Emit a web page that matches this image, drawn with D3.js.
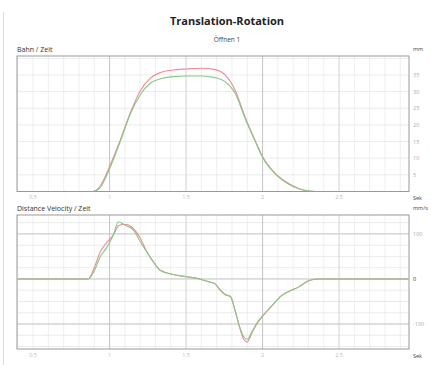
<!DOCTYPE html>
<html><head><meta charset="utf-8">
<script src="https://cdn.jsdelivr.net/npm/d3@7"></script>
<style>body{margin:0;background:#fff}svg{display:block;font-family:"Open Sans",sans-serif}</style>
</head><body><svg id="c" width="431" height="365"></svg>
<script>
// ---- data ----
const xTicks = [0.5, 1, 1.5, 2, 2.5];
const posTicks = [5, 10, 15, 20, 25, 30, 35];
const velTicks = [100, 0, -100];
const posTime = [0.4,0.85,0.89,0.937,1,1.07,1.135,1.2,1.265,1.33,1.415,1.5,1.6,1.69,1.755,1.82,1.885,1.95,2,2.08,2.15,2.21,2.28,2.35,2.5,2.95];
const posRed  = [0,0,0,1.5,7.5,15.5,23.6,30.2,34,35.7,36.5,36.8,37,36.6,35,30.5,22.5,15.5,10.5,5.6,3,1.4,0.3,0,0,0];
const posGreen= [0,0,0,1.1,6.8,15,23.2,29,32.5,33.8,34.5,34.7,34.7,34.2,33,29.6,22,15.2,10.2,5.4,2.8,1.3,0.3,0,0,0];
const velTime = [0.4,0.86,0.9,0.94,0.98,1.025,1.058,1.09,1.11,1.155,1.2,1.243,1.287,1.33,1.416,1.5,1.59,1.655,1.687,1.72,1.755,1.79,1.82,1.85,1.88,1.9,1.93,1.97,2,2.06,2.12,2.19,2.24,2.3,2.36,2.95];
const velRed  = [0,0,25,61,80,98,118,121,121,112,91,61,38,20,10,5,0,-7,-10,-24,-35,-39,-70,-108,-136,-140,-120,-96,-83,-60,-38,-25,-17,-4,0,0];
const velGreen= [0,0,18,50,69,98,127,122,118,109,83,60,37,19,10,5,0,-7,-10,-23,-34,-39,-69,-106,-130,-134,-117,-94,-82,-60,-38,-25,-17,-4,0,0];

const svg = d3.select("#c");
const L = 17, R = 409;
const x = d3.scaleLinear().domain([0.395, 2.957]).range([L, R]);
const red = "#ec8a98", green = "#86c886";

svg.append("line").attr("x1",3.5).attr("x2",3.5).attr("y1",12).attr("y2",365).attr("stroke","#ddd");
svg.append("text").attr("x",227).attr("y",25).attr("text-anchor","middle").attr("font-weight","bold").attr("font-size",11).attr("fill","#222").text("Translation-Rotation");
svg.append("text").attr("x",227).attr("y",42).attr("text-anchor","middle").attr("font-size",6.5).attr("fill","#444").text("Öffnen 1");

function panel(top, bottom, y, yTicks, minorStep, majorVals, title, unit, tXs, tY, ysA, ysB){
  const g = svg.append("g");
  const [d0,d1] = y.domain();
  d3.range(0.4, 2.96, 0.1).forEach(t=>{
    g.append("line").attr("x1",x(t)).attr("x2",x(t)).attr("y1",top).attr("y2",bottom).attr("stroke","#ebebeb").attr("stroke-width",0.8);
  });
  d3.range(Math.ceil(d0/minorStep)*minorStep, d1, minorStep).forEach(v=>{
    g.append("line").attr("x1",L).attr("x2",R).attr("y1",y(v)).attr("y2",y(v)).attr("stroke","#e6e6e6").attr("stroke-width",0.8);
  });
  majorVals.forEach(v=>{
    g.append("line").attr("x1",L).attr("x2",R).attr("y1",y(v)).attr("y2",y(v)).attr("stroke","#c4c4c4").attr("stroke-width",0.9);
  });
  [1,1.5,2,2.5].forEach(t=>{
    g.append("line").attr("x1",x(t)).attr("x2",x(t)).attr("y1",top).attr("y2",bottom).attr("stroke",t%1===0?"#c0c0c0":"#d6d6d6").attr("stroke-width",0.9);
  });
  const line = (ts, vs) => d3.line().x((d,i)=>x(ts[i])).y(d=>y(d)).curve(d3.curveMonotoneX)(vs);
  g.append("path").attr("d",line(tXs, ysA)).attr("fill","none").attr("stroke",red).attr("stroke-width",1.1);
  g.append("path").attr("d",line(tXs, ysB)).attr("fill","none").attr("stroke",green).attr("stroke-width",1.1);
  g.append("rect").attr("x",L).attr("y",top).attr("width",R-L).attr("height",bottom-top).attr("fill","none").attr("stroke","#999").attr("stroke-width",1);
  yTicks.forEach(v=>{
    g.append("text").attr("x",413).attr("y",y(v)+2).attr("font-size",5.5).attr("fill", v===0?"#333":"#aaa").text(v===0?"0":(v<0?"-"+Math.abs(v):v));
  });
  svg.append("text").attr("x",L).attr("y",top-4).attr("font-size",7).attr("fill","#333").text(title);
  svg.append("text").attr("x",413).attr("y",top-5).attr("font-size",5.5).attr("fill","#444").text(unit);
  xTicks.forEach(t=>{
    svg.append("text").attr("x",x(t)).attr("y",tY).attr("text-anchor","middle").attr("font-size",5.5).attr("fill","#bbb").text(t);
  });
  svg.append("text").attr("x",413).attr("y",tY+1).attr("font-size",5.5).attr("fill","#444").text("Sek");
}

const yPos = d3.scaleLinear().domain([0, 40.7]).range([191.5, 56]);
panel(56, 191.5, yPos, posTicks, 5, [], "Bahn / Zeit", "mm", posTime, 199, posRed, posGreen);

const yVel = d3.scaleLinear().domain([-155.5, 142]).range([349, 215]);
panel(215, 349, yVel, velTicks, 25, [100,0,-100], "Distance Velocity / Zeit", "mm/s", velTime, 357, velRed, velGreen);
</script></body></html>
